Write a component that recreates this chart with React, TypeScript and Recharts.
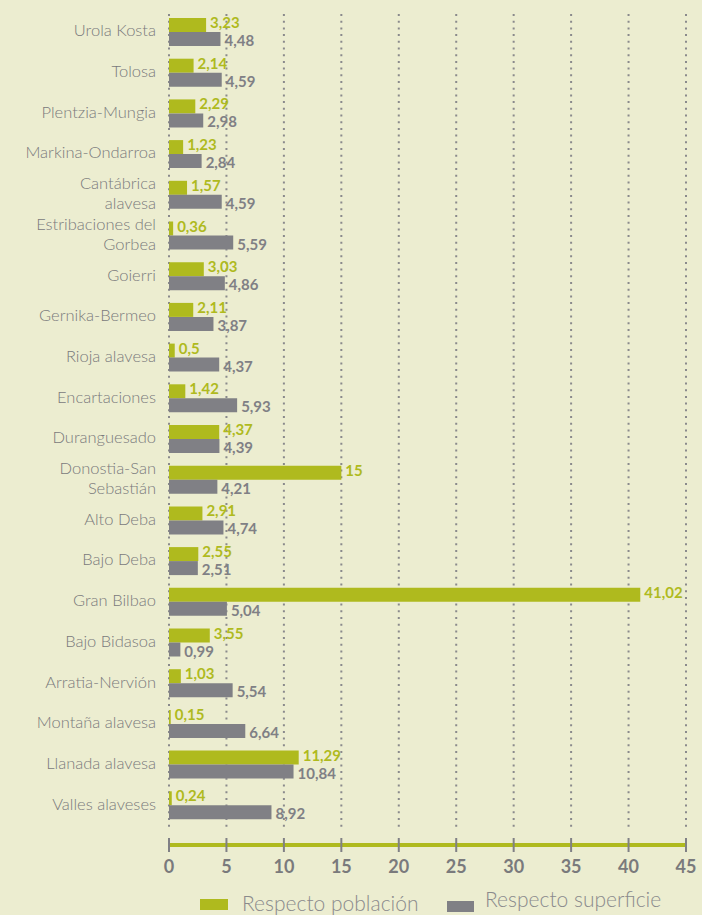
import { BarChart, Bar, XAxis, YAxis, CartesianGrid, LabelList } from "recharts";

const categories = [
  "Urola Kosta", "Tolosa", "Plentzia-Mungia", "Markina-Ondarroa", "Cantábrica alavesa",
  "Estribaciones del Gorbea", "Goierri", "Gernika-Bermeo", "Rioja alavesa", "Encartaciones",
  "Duranguesado", "Donostia-San Sebastián", "Alto Deba", "Bajo Deba", "Gran Bilbao",
  "Bajo Bidasoa", "Arratia-Nervión", "Montaña alavesa", "Llanada alavesa", "Valles alaveses",
];
const poblacion = [3.23, 2.14, 2.29, 1.23, 1.57, 0.36, 3.03, 2.11, 0.5, 1.42, 4.37, 15, 2.91, 2.55, 41.02, 3.55, 1.03, 0.15, 11.29, 0.24];
const superficie = [4.48, 4.59, 2.98, 2.84, 4.59, 5.59, 4.86, 3.87, 4.37, 5.93, 4.39, 4.21, 4.74, 2.51, 5.04, 0.99, 5.54, 6.64, 10.84, 8.92];
const xTicks = [0, 5, 10, 15, 20, 25, 30, 35, 40, 45];

// category names that break onto two lines
const wrapped: Record<string, string[]> = {
  "Cantábrica alavesa": ["Cantábrica", "alavesa"],
  "Estribaciones del Gorbea": ["Estribaciones del", "Gorbea"],
  "Donostia-San Sebastián": ["Donostia-San", "Sebastián"],
};

const data = categories.map((name, i) => ({ name, poblacion: poblacion[i], superficie: superficie[i] }));

const BG = "#ecedd0";
const GREEN = "#afba1e";
const GREY = "#808085";
const TEXT = "#7a7a7c";
const LINE_H = 20;

const fmt = (v: number) => String(v).replace(".", ",");

const CategoryTick = (props: any) => {
  const { x, y, payload } = props;
  const lines = wrapped[payload.value] ?? [payload.value];
  const start = y + 4 - ((lines.length - 1) * LINE_H) / 2;
  return (
    <text x={x - 13} y={start} textAnchor="end" fill={TEXT} fontFamily="Lato, sans-serif" fontWeight={300} fontSize={16.5}>
      {lines.map((l: string, i: number) => (
        <tspan key={i} x={x - 13} dy={i === 0 ? 0 : LINE_H}>{l}</tspan>
      ))}
    </text>
  );
};

const ValueTick = (props: any) => {
  const { x, y, payload } = props;
  return (
    <g>
      <line x1={x} x2={x} y1={y - 7} y2={y + 7} stroke={GREY} strokeWidth={2} />
      <text x={x} y={y + 28} textAnchor="middle" fill={TEXT} fontFamily="Lato, sans-serif" fontWeight={700} fontSize={18}>
        {payload.value}
      </text>
    </g>
  );
};

const gridLine = (props: any) => (
  <line
    key={`${props.x1}`}
    x1={props.x1} x2={props.x2} y1={props.y1 + 2} y2={props.y2 - 15}
    stroke="#8a8a8c" strokeWidth={2} strokeDasharray="2 4.7"
  />
);

const makeLabel = (color: string, dy: number) => (p: any) => (
  <text
    x={p.x + p.width + 4} y={p.y + p.height / 2 + dy}
    dominantBaseline="central" fill={color}
    fontFamily="Lato, sans-serif" fontWeight={700} fontSize={15}
  >
    {fmt(p.value)}
  </text>
);

export default function App() {
  return (
    <div style={{ position: "absolute", left: 0, top: 0, width: 702, height: 915, background: BG, fontFamily: "Lato, sans-serif" }}>
      <BarChart
        width={702} height={915} data={data} layout="vertical"
        margin={{ top: 12, right: 16, left: 0, bottom: 40 }}
        barGap={0} barSize={14}
      >
        <CartesianGrid horizontal={false} vertical={gridLine} />
        <XAxis
          type="number" domain={[0, 45]} ticks={xTicks} height={30}
          axisLine={{ stroke: GREEN, strokeWidth: 4 }} tickLine={false}
          tickSize={0} tickMargin={0} tick={ValueTick} interval={0}
        />
        <YAxis
          type="category" dataKey="name" width={169} axisLine={false} tickLine={false}
          tickSize={0} tickMargin={0} tick={CategoryTick} interval={0}
          padding={{ top: 0, bottom: 19 }}
        />
        <Bar dataKey="poblacion" fill={GREEN} isAnimationActive={false}>
          <LabelList dataKey="poblacion" content={makeLabel(GREEN, -3)} />
        </Bar>
        <Bar dataKey="superficie" fill={GREY} isAnimationActive={false}>
          <LabelList dataKey="superficie" content={makeLabel(GREY, 1)} />
        </Bar>
      </BarChart>
      <div style={{ position: "absolute", left: 200, top: 899, width: 28, height: 11, background: GREEN }} />
      <div style={{ position: "absolute", left: 242, top: 890, fontSize: 21, fontWeight: 300, color: "#8a8a8c", lineHeight: "26px" }}>
        Respecto población
      </div>
      <div style={{ position: "absolute", left: 447, top: 901, width: 27, height: 11, background: GREY }} />
      <div style={{ position: "absolute", left: 485, top: 886, fontSize: 21, fontWeight: 300, color: "#8a8a8c", lineHeight: "26px" }}>
        Respecto superficie
      </div>
    </div>
  );
}
